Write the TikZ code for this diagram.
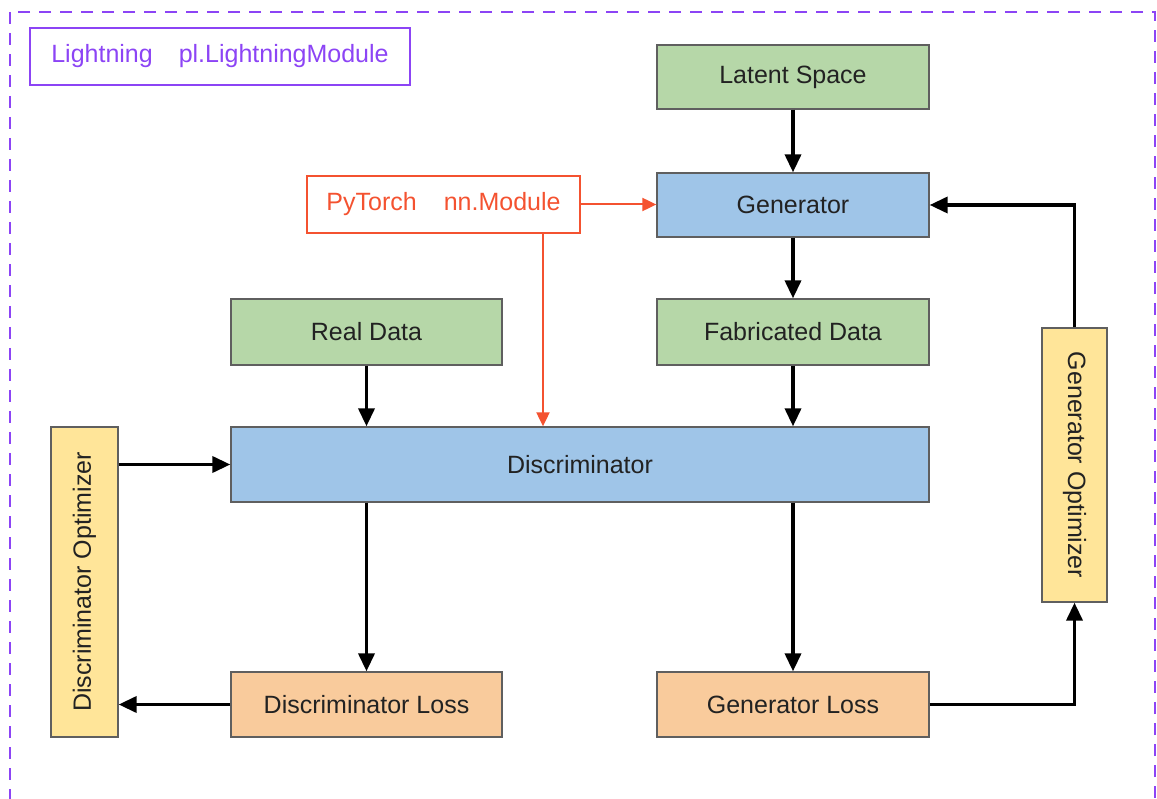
\documentclass[tikz,border=0pt]{standalone}
\usepackage{fontspec}
\setmainfont{Liberation Sans}
\usetikzlibrary{arrows.meta}
\definecolor{lightpurple}{RGB}{140,68,245}
\definecolor{torchred}{RGB}{244,82,48}
\definecolor{boxline}{RGB}{95,95,95}
\definecolor{boxtext}{RGB}{34,34,34}
\definecolor{greenfill}{RGB}{182,215,168}
\definecolor{bluefill}{RGB}{159,197,232}
\definecolor{yellowfill}{RGB}{255,229,153}
\definecolor{orangefill}{RGB}{249,203,156}
\tikzset{
  block/.style={draw=boxline, line width=1.3pt, text=boxtext, inner sep=0pt,
    font=\fontsize{25}{28}\selectfont},
  datablock/.style={block, fill=greenfill},
  netblock/.style={block, fill=bluefill},
  optblock/.style={block, fill=yellowfill},
  lossblock/.style={block, fill=orangefill},
  flow/.style={line width=3.6pt, -{Triangle[length=18pt,width=16pt]}},
  torchflow/.style={draw=torchred, line width=2pt, -{Triangle[length=14pt,width=13pt]}, color=torchred},
  tag/.style={draw, line width=1.3pt, inner sep=0pt, font=\fontsize{25}{28}\selectfont}
}
\begin{document}
\begin{tikzpicture}[x=1pt, y=-1pt]
\useasboundingbox (0,0) rectangle (1157,799);
% outer Lightning module frame
\draw[lightpurple, line width=2pt, dash pattern=on 12pt off 9pt] (10,12) rectangle (1155,830);

% framework tags
\node[tag, draw=lightpurple, text=lightpurple, minimum width=380pt, minimum height=57pt] (legend) at (220,56.5)
  {Lightning\hspace{26pt}pl.LightningModule};
\node[tag, draw=torchred, text=torchred, minimum width=273pt, minimum height=57pt] (pytorch) at (443.5,204.5)
  {PyTorch\hspace{27pt}nn.Module};

% data, networks, losses, optimizers
\node[datablock, minimum width=272pt, minimum height=64pt] (latent) at (793,77) {Latent Space};
\node[netblock, minimum width=272pt, minimum height=64pt] (gen) at (793,205) {Generator};
\node[datablock, minimum width=272pt, minimum height=66pt] (fab) at (793,332) {Fabricated Data};
\node[datablock, minimum width=271pt, minimum height=66pt] (real) at (366.5,332) {Real Data};
\node[netblock, minimum width=698pt, minimum height=75pt] (disc) at (580,464.5) {Discriminator};
\node[lossblock, minimum width=271pt, minimum height=65pt] (dloss) at (366.5,704.5) {Discriminator Loss};
\node[lossblock, minimum width=272pt, minimum height=65pt] (gloss) at (793,704.5) {Generator Loss};
\node[optblock, minimum width=67pt, minimum height=310pt] (dopt) at (84.5,582) {\rotatebox{90}{Discriminator Optimizer}};
\node[optblock, minimum width=65pt, minimum height=274pt] (gopt) at (1074.5,465) {\rotatebox{-90}{Generator Optimizer}};

% generator path
\draw[flow] (latent.south) -- (gen.north);
\draw[flow] (gen.south) -- (fab.north);
\draw[flow] (fab.south) -- (fab.south |- disc.north);
\draw[flow] (real.south) -- (real.south |- disc.north);

% PyTorch modules
\draw[torchflow] (pytorch.east) -- (gen.west |- pytorch.east);
\coordinate (ptdrop) at ([xshift=99.5pt]pytorch.south);
\draw[torchflow] (ptdrop) -- (ptdrop |- disc.north);

% discriminator training loop
\draw[flow] (dopt.east |- disc.west) -- (disc.west);
\draw[flow] (dloss.north |- disc.south) -- (dloss.north);
\draw[flow] (dloss.west) -- (dopt.east |- dloss.west);

% generator training loop
\draw[flow] (gloss.north |- disc.south) -- (gloss.north);
\draw[flow] (gloss.east) -| (gopt.south);
\draw[flow] (gopt.north) |- (gen.east);
\end{tikzpicture}
\end{document}
